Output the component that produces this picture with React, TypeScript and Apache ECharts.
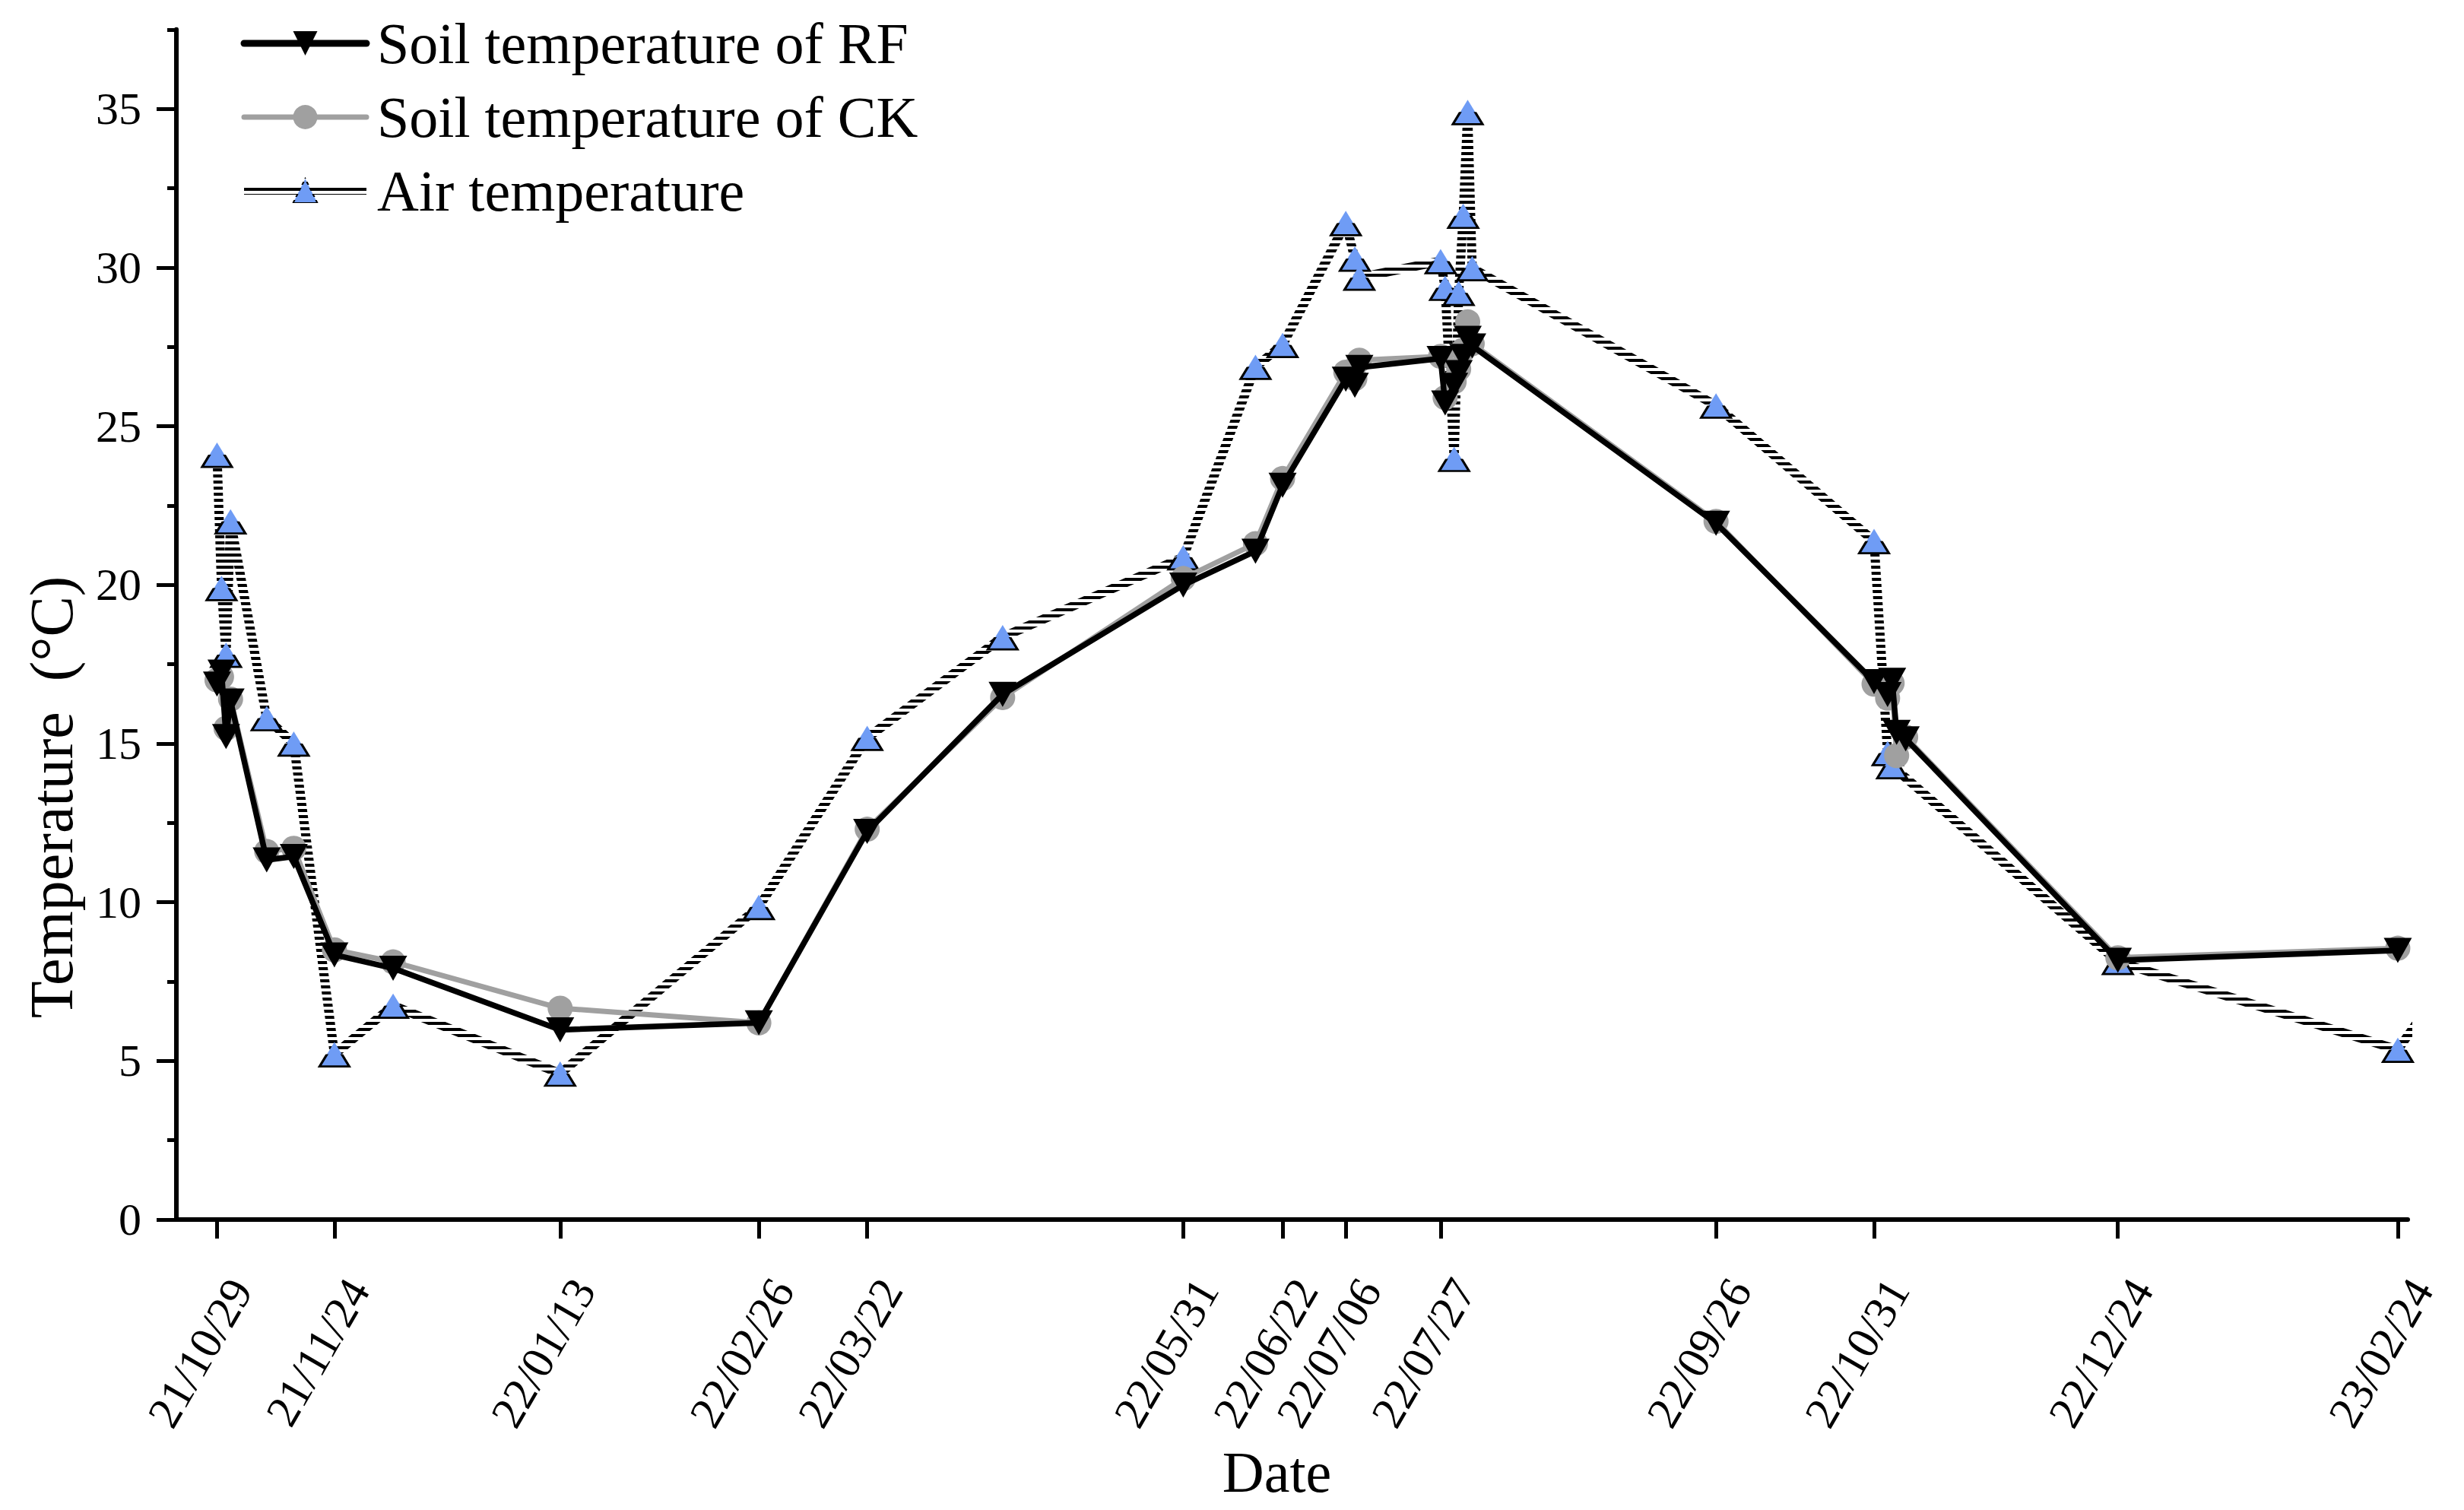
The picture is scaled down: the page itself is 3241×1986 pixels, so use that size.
import React, { useEffect, useRef } from 'react';
import * as echarts from 'echarts';

const FONT = '"Liberation Serif", "Times New Roman", serif';

// Tick dates on the x axis
const tickDates = [
  '2021-10-29', '2021-11-24', '2022-01-13', '2022-02-26', '2022-03-22',
  '2022-05-31', '2022-06-22', '2022-07-06', '2022-07-27', '2022-09-26',
  '2022-10-31', '2022-12-24', '2023-02-24',
];
const yMajorTicks = [0, 5, 10, 15, 20, 25, 30, 35];
const yMinorTicks = [2.5, 7.5, 12.5, 17.5, 22.5, 27.5, 32.5, 37.5];

// Soil measurements (RF and CK share dates)
const soilDates = [
  '2021-10-29', '2021-10-30', '2021-10-31', '2021-11-01', '2021-11-09', '2021-11-15',
  '2021-11-24', '2021-12-07', '2022-01-13', '2022-02-26', '2022-03-22', '2022-04-21',
  '2022-05-31', '2022-06-16', '2022-06-22', '2022-07-06', '2022-07-08', '2022-07-09',
  '2022-07-27', '2022-07-28', '2022-07-30', '2022-07-31', '2022-08-01', '2022-08-02',
  '2022-08-03', '2022-09-26', '2022-10-31', '2022-11-03', '2022-11-04', '2022-11-05',
  '2022-11-07', '2022-12-24', '2023-02-24',
];
const rfValues = [
  16.87, 17.25, 15.22, 16.34, 11.33, 11.44,
  8.34, 7.92, 5.98, 6.2, 12.23, 16.55,
  19.99, 21.06, 23.14, 26.48, 26.29, 26.85,
  27.13, 25.73, 26.29, 26.69, 27.2, 27.77,
  27.53, 21.94, 16.95, 16.54, 16.99, 15.35,
  15.15, 8.17, 8.48,
];
const ckValues = [
  17.0, 17.1, 15.48, 16.4, 11.6, 11.7,
  8.5, 8.12, 6.66, 6.2, 12.3, 16.45,
  20.2, 21.3, 23.35, 26.7, 26.5, 27.08,
  27.2, 25.9, 26.4, 26.8, 27.4, 28.29,
  27.6, 22.0, 16.87, 16.43, 16.9, 14.62,
  15.2, 8.25, 8.55,
];

// Air temperature
const airDates = [
  '2021-10-29', '2021-10-30', '2021-10-31', '2021-11-01', '2021-11-09', '2021-11-15',
  '2021-11-24', '2021-12-07', '2022-01-13', '2022-02-26', '2022-03-22', '2022-04-21',
  '2022-05-31', '2022-06-16', '2022-06-22', '2022-07-06', '2022-07-08', '2022-07-09',
  '2022-07-27', '2022-07-28', '2022-07-30', '2022-07-31', '2022-08-01', '2022-08-02',
  '2022-08-03', '2022-09-26', '2022-10-31', '2022-11-03', '2022-11-04', '2022-12-24',
  '2023-02-24', '2023-03-24',
];
const airValues = [
  24.1, 19.9, 17.8, 22.0, 15.8, 15.0,
  5.21, 6.74, 4.6, 9.85, 15.18, 18.35,
  20.87, 26.87, 27.56, 31.4, 30.28, 29.68,
  30.2, 29.36, 23.97, 29.2, 31.63, 34.9,
  29.98, 25.65, 21.38, 14.7, 14.29, 8.12,
  5.35, 11.0,
];

const DAY = 86400000;
function ts(s: string): number {
  const [y, m, d] = s.split('-').map(Number);
  return Date.UTC(y, m - 1, d);
}
function pad(n: number) {
  return n < 10 ? '0' + n : String(n);
}
function fmt(v: number): string {
  const dt = new Date(v);
  return `${String(dt.getUTCFullYear()).slice(2)}/${pad(dt.getUTCMonth() + 1)}/${pad(dt.getUTCDate())}`;
}
function pairs(dates: string[], vals: number[]) {
  return dates.map((d, i) => [ts(d), vals[i]]);
}

export default function App() {
  const ref = useRef<HTMLDivElement>(null);
  useEffect(() => {
    if (!ref.current) return;
    document.body.style.margin = '0';
    document.body.style.overflow = 'hidden';
    const cv = document.createElement('canvas');
    cv.width = 8;
    cv.height = 8;
    const ctx = cv.getContext('2d');
    if (ctx) {
      ctx.fillStyle = '#000';
      ctx.fillRect(0, 0, 8, 4);
    }
    const hatch: any = { image: cv.toDataURL('image/png'), repeat: 'repeat', imageWidth: 8, imageHeight: 8 };

    const chart = echarts.init(ref.current, null, { renderer: 'svg' });
    const tickTs = tickDates.map(ts);
    const option: any = {
      animation: false,
      backgroundColor: '#ffffff',
      grid: { left: 232, right: 74, top: 38.75, bottom: 382, containLabel: false, outerBoundsMode: 'none' },
      legend: {
        orient: 'vertical',
        left: 316,
        top: 19,
        padding: 0,
        itemWidth: 161,
        itemHeight: 40,
        itemGap: 21,
        data: [
          { name: 'Soil temperature of RF', lineStyle: { width: 9, color: '#000' } },
          { name: 'Soil temperature of CK', lineStyle: { width: 7, color: '#a0a0a0' } },
          { name: 'Air temperature', lineStyle: { width: 10, color: hatch } },
        ],
        textStyle: { fontFamily: FONT, fontSize: 76, color: '#000', lineHeight: 76, padding: [0, 0, 0, 9] },
      },
      xAxis: {
        type: 'value',
        min: ts('2021-10-20'),
        max: ts('2023-02-26') + 0.2 * DAY,
        name: 'Date',
        nameLocation: 'middle',
        nameGap: 294,
        nameMoveOverlap: false,
        nameTextStyle: { fontFamily: FONT, fontSize: 76, color: '#000', padding: [0, 40, 0, 0] },
        axisLine: { show: true, onZero: false, lineStyle: { color: '#000', width: 6 } },
        axisTick: { show: true, inside: false, length: 25, customValues: tickTs, lineStyle: { color: '#000', width: 5 } },
        axisLabel: {
          show: true,
          customValues: tickTs,
          formatter: (v: number) => fmt(v),
          rotate: 60,
          align: 'right',
          verticalAlign: 'top',
          lineHeight: 72,
          margin: 65,
          hideOverlap: false,
          fontFamily: FONT,
          fontSize: 60,
          color: '#000',
        },
        splitLine: { show: false },
        minorTick: { show: false },
      },
      yAxis: [
        {
          type: 'value',
          min: 0,
          max: 37.5,
          position: 'left',
          name: 'Temperature  (°C)',
          nameLocation: 'middle',
          nameRotate: 90,
          nameGap: 124,
          nameMoveOverlap: false,
          nameTextStyle: { fontFamily: FONT, fontSize: 80, color: '#000', padding: [0, 454, 0, 0] },
          axisLine: { show: true, onZero: false, lineStyle: { color: '#000', width: 6 } },
          axisTick: { show: true, inside: false, length: 26, customValues: yMajorTicks, lineStyle: { color: '#000', width: 5 } },
          axisLabel: {
            show: true,
            customValues: yMajorTicks,
            margin: 46,
            fontFamily: FONT,
            fontSize: 60,
            color: '#000',
          },
          splitLine: { show: false },
        },
        {
          type: 'value',
          min: 0,
          max: 37.5,
          position: 'left',
          axisLine: { show: false },
          axisTick: { show: true, inside: false, length: 12, customValues: yMinorTicks, lineStyle: { color: '#000', width: 5 } },
          axisLabel: { show: false },
          splitLine: { show: false },
        },
      ],
      series: [
        {
          name: 'Air temperature',
          type: 'line',
          z: 2,
          data: pairs(airDates, airValues),
          symbol: 'triangle',
          symbolSize: [39, 32],
          showAllSymbol: true,
          lineStyle: { color: hatch, width: 12, type: 'solid', join: 'round' },
          itemStyle: { color: '#6f9cf5', borderColor: hatch, borderWidth: 3 },
          emphasis: { disabled: true },
        },
        {
          name: 'Soil temperature of CK',
          type: 'line',
          z: 3,
          data: pairs(soilDates, ckValues),
          symbol: 'circle',
          symbolSize: 33,
          showAllSymbol: true,
          lineStyle: { color: '#a0a0a0', width: 7, join: 'round', cap: 'round' },
          itemStyle: { color: '#a0a0a0', borderWidth: 0 },
          emphasis: { disabled: true },
        },
        {
          name: 'Soil temperature of RF',
          type: 'line',
          z: 4,
          data: pairs(soilDates, rfValues),
          symbol: 'triangle',
          symbolRotate: 180,
          symbolSize: [37, 33],
          showAllSymbol: true,
          lineStyle: { color: '#000', width: 7.5, join: 'round', cap: 'round' },
          itemStyle: { color: '#000', borderWidth: 0 },
          emphasis: { disabled: true },
        },
      ],
    };
    chart.setOption(option);
    return () => chart.dispose();
  }, []);
  return (
    <div
      ref={ref}
      style={{ position: 'absolute', left: 0, top: 0, width: 3241, height: 1986, background: '#fff' }}
    />
  );
}
